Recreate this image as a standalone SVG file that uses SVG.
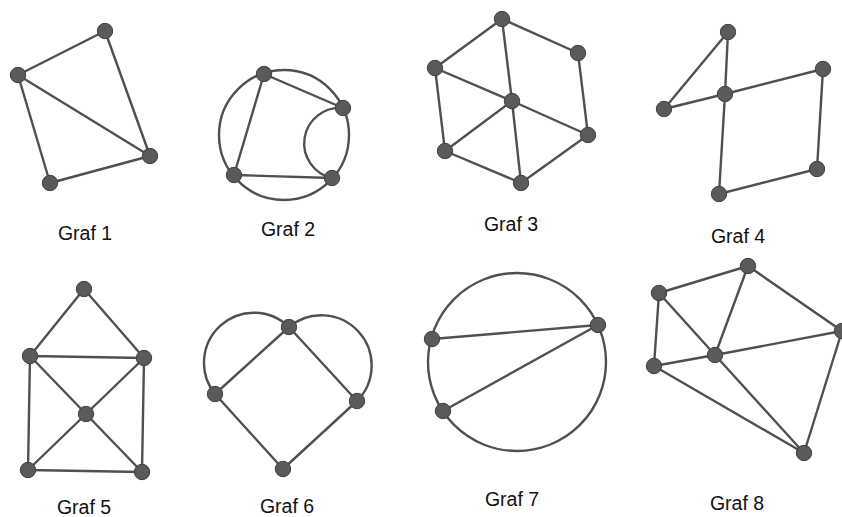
<svg xmlns="http://www.w3.org/2000/svg" width="842" height="517" viewBox="0 0 842 517">
<style>
.e{stroke:#505050;stroke-width:2.4;fill:none;stroke-linecap:round}
.n{fill:#5a5a5a;stroke:#404040;stroke-width:1}
.t{font-family:"Liberation Sans",Arial,sans-serif;font-size:19.5px;fill:#111;text-anchor:middle}
</style>
<rect width="842" height="517" fill="#fff"/>
<g id="connectors">
<!-- Graf 1 -->
<path class="e" d="M105,31L18,75M105,31L150,156M18,75L150,156M18,75L50,183M50,183L150,156"/>
<!-- Graf 2 -->
<circle class="e" cx="284" cy="135" r="65"/>
<path class="e" d="M264,74L343,108M264,74L234,175M234,175L332,178"/>
<path class="e" d="M343,108A35.5,35.5 0 0 0 332,178"/>
<!-- Graf 3 -->
<path class="e" d="M502,19L578,53M502,19L435,68M502,19L512,101M578,53L588,135M435,68L512,101M435,68L445,151M512,101L445,151M512,101L588,135M512,101L521,183M445,151L521,183M521,183L588,135"/>
<!-- Graf 4 -->
<path class="e" d="M728,32L664,109M728,32L725,94M664,109L725,94M725,94L823,69M823,69L817,169M817,169L719,194M719,194L725,94"/>
<!-- Graf 5 -->
<path class="e" d="M84,289L30,356M84,289L144,358M30,356L144,358M30,356L28,470M144,358L142,472M28,470L142,472M30,356L142,472M144,358L28,470"/>
<!-- Graf 6 -->
<path class="e" d="M289,327L215,394M289,327L357,401M215,394L283,469M357,401L283,469"/>
<path class="e" d="M289,327A50,50 0 0 0 215,394M289,327A50.3,50.3 0 0 1 357,401"/>
<!-- Graf 7 -->
<circle class="e" cx="517" cy="362" r="89"/>
<path class="e" d="M432,339L598,325M443,411L598,325"/>
<!-- Graf 8 -->
<path class="e" d="M659,293L748,266M748,266L842,331M659,293L715,355M748,266L715,355M659,293L654,366M654,366L715,355M715,355L842,331M654,366L804,453M715,355L804,453M842,331L804,453"/>
</g>
<g id="graf1">
<circle class="n" cx="105" cy="31" r="7.7"/><circle class="n" cx="18" cy="75" r="7.7"/><circle class="n" cx="150" cy="156" r="7.7"/><circle class="n" cx="50" cy="183" r="7.7"/>
<text class="t" x="85" y="240">Graf 1</text>
</g>
<g id="graf2">
<circle class="n" cx="264" cy="74" r="7.7"/><circle class="n" cx="343" cy="108" r="7.7"/><circle class="n" cx="332" cy="178" r="7.7"/><circle class="n" cx="234" cy="175" r="7.7"/>
<text class="t" x="288" y="236">Graf 2</text>
</g>
<g id="graf3">
<circle class="n" cx="502" cy="19" r="7.7"/><circle class="n" cx="578" cy="53" r="7.7"/><circle class="n" cx="435" cy="68" r="7.7"/><circle class="n" cx="512" cy="101" r="7.7"/><circle class="n" cx="588" cy="135" r="7.7"/><circle class="n" cx="445" cy="151" r="7.7"/><circle class="n" cx="521" cy="183" r="7.7"/>
<text class="t" x="511" y="231">Graf 3</text>
</g>
<g id="graf4">
<circle class="n" cx="728" cy="32" r="7.7"/><circle class="n" cx="725" cy="94" r="7.7"/><circle class="n" cx="664" cy="109" r="7.7"/><circle class="n" cx="823" cy="69" r="7.7"/><circle class="n" cx="817" cy="169" r="7.7"/><circle class="n" cx="719" cy="194" r="7.7"/>
<text class="t" x="738" y="243">Graf 4</text>
</g>
<g id="graf5">
<circle class="n" cx="84" cy="289" r="7.7"/><circle class="n" cx="30" cy="356" r="7.7"/><circle class="n" cx="144" cy="358" r="7.7"/><circle class="n" cx="86" cy="414" r="7.7"/><circle class="n" cx="28" cy="470" r="7.7"/><circle class="n" cx="142" cy="472" r="7.7"/>
<text class="t" x="84" y="514">Graf 5</text>
</g>
<g id="graf6">
<circle class="n" cx="289" cy="327" r="7.7"/><circle class="n" cx="215" cy="394" r="7.7"/><circle class="n" cx="357" cy="401" r="7.7"/><circle class="n" cx="283" cy="469" r="7.7"/>
<text class="t" x="287" y="513">Graf 6</text>
</g>
<g id="graf7">
<circle class="n" cx="598" cy="325" r="7.7"/><circle class="n" cx="432" cy="339" r="7.7"/><circle class="n" cx="443" cy="411" r="7.7"/>
<text class="t" x="512" y="506">Graf 7</text>
</g>
<g id="graf8">
<circle class="n" cx="748" cy="266" r="7.7"/><circle class="n" cx="659" cy="293" r="7.7"/><circle class="n" cx="842" cy="331" r="7.7"/><circle class="n" cx="715" cy="355" r="7.7"/><circle class="n" cx="654" cy="366" r="7.7"/><circle class="n" cx="804" cy="453" r="7.7"/>
<text class="t" x="737" y="510">Graf 8</text>
</g>
</svg>
